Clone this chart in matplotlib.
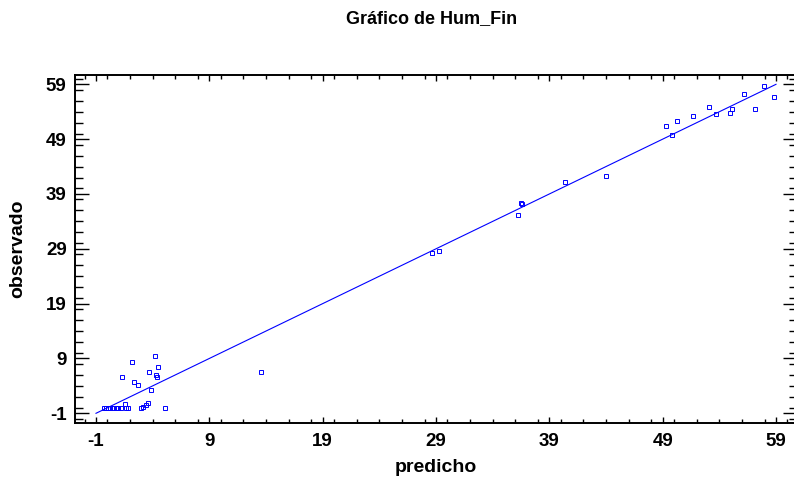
import matplotlib.pyplot as plt
from matplotlib.ticker import MultipleLocator
import numpy as np

plt.rcParams['font.family'] = ['Liberation Sans', 'DejaVu Sans']
plt.rcParams['font.weight'] = 'bold'

# predicted vs observed values for Hum_Fin
predicho = [
    -0.29, -0.12, 0.06, 0.24, 0.50, 0.76, 0.94, 1.20, 1.65, 1.82, 2.97, 5.09,
    1.56, 3.17, 3.38, 3.56,
    4.18, 2.20, 4.44, 3.70, 1.29, 4.30, 4.35, 2.35, 2.67, 3.85, 13.60,
    28.67, 29.24, 36.26, 36.47, 36.55, 40.38, 43.97,
    49.27, 49.82, 50.30, 51.65, 53.06, 53.70, 54.90, 55.15, 56.18, 57.15,
    57.90, 58.85,
]
observado = [
    -0.10, -0.10, -0.10, -0.10, -0.10, -0.10, -0.10, -0.10, -0.10, -0.10, -0.10, -0.10,
    0.75, 0.20, 0.50, 0.80,
    9.50, 8.40, 7.50, 6.50, 5.60, 6.00, 5.70, 4.75, 4.20, 3.25, 6.50,
    28.18, 28.66, 35.20, 37.30, 37.10, 41.24, 42.30,
    51.34, 49.80, 52.26, 53.17, 54.86, 53.60, 53.80, 54.55, 57.30, 54.50,
    58.75, 56.70,
]
linea = [-1, 59]

ticks = np.arange(-1, 60, 10)

fig = plt.figure(figsize=(7.94, 4.8), dpi=100)
ax = fig.add_axes([75 / 794, 57 / 480, 722 / 794, 348 / 480])

ax.plot(linea, linea, color='#0000FF', lw=0.8)
ax.plot(predicho, observado, linestyle='none', marker='s', markersize=3.4,
        markerfacecolor='none', markeredgecolor='#0000FF', markeredgewidth=0.7)

ax.set_xlim(-2.853, 60.853)
ax.set_ylim(-2.77, 60.7)
ax.set_xticks(ticks)
ax.set_yticks(ticks)
ax.xaxis.set_minor_locator(MultipleLocator(2))
ax.yaxis.set_minor_locator(MultipleLocator(2))
ax.set_xticklabels([str(t) for t in ticks])
ax.set_yticklabels([str(t) for t in ticks])

for s in ax.spines.values():
    s.set_linewidth(1.4)
ax.spines['right'].set_visible(False)

ax.tick_params(axis='x', which='both', direction='in', top=True, bottom=True,
               width=1.0, labelsize=13.5, pad=7)
ax.tick_params(axis='x', which='major', length=4.5)
ax.tick_params(axis='x', which='minor', length=3)
ax.tick_params(axis='y', which='both', direction='in', left=True, right=True,
               width=1.0, labelsize=13.5, pad=6)
ax.tick_params(axis='y', which='major', length=10)
ax.tick_params(axis='y', which='minor', length=5.5)

ax.set_xlabel('predicho', fontsize=14, fontweight='bold', labelpad=7)
ax.set_ylabel('observado', fontsize=14, fontweight='bold', labelpad=14)
fig.text(0.543, 0.962, 'Gráfico de Hum_Fin', ha='center', va='center',
         fontsize=13, fontweight='bold')

fig.savefig('out.png', dpi=100)
